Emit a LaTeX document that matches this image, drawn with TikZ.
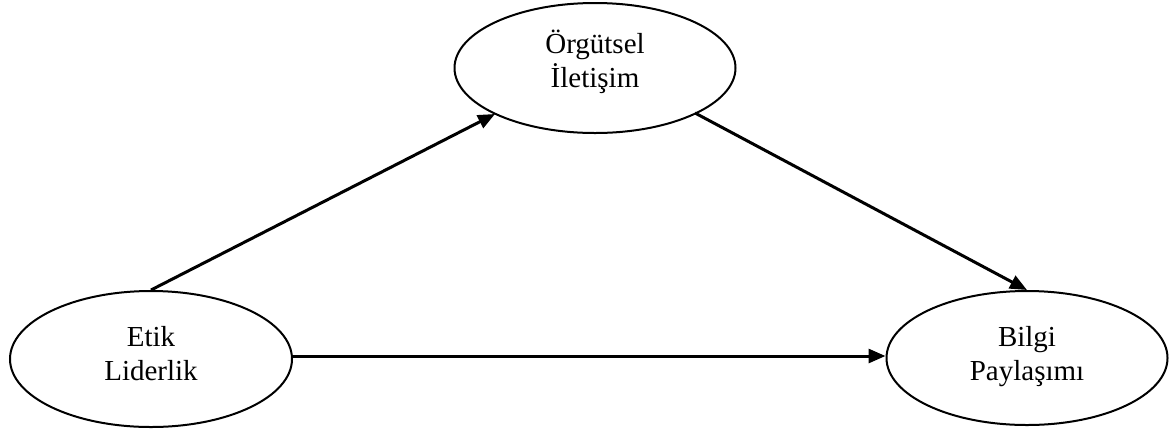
\documentclass[tikz,border=0pt]{standalone}
\usepackage{fontspec}
\setmainfont{Liberation Serif}
\usetikzlibrary{shapes.geometric,arrows.meta}
\begin{document}
\begin{tikzpicture}[x=1pt,y=-1pt,
  oval/.style={draw,line width=2pt,ellipse,inner sep=0pt},
  txt/.style={align=center,inner sep=0pt,font=\fontsize{29}{34}\selectfont},
  link/.style={line width=3pt,-{Triangle[length=17pt,width=14pt]}}]
\useasboundingbox (0,0) rectangle (1172,432);
\node[oval,minimum width=281pt,minimum height=130pt] (o) at (595,68) {};
\node[oval,minimum width=282pt,minimum height=136pt] (e) at (151,359) {};
\node[oval,minimum width=281pt,minimum height=134pt] (b) at (1027,358) {};
\node[txt,anchor=base] (ot) at (595,87) {Örgütsel\\İletişim};
\node[txt,anchor=base] (et) at (151,380) {Etik\\Liderlik};
\node[txt,anchor=base] (bt) at (1027,380) {Bilgi\\Paylaşımı};
\coordinate (o1) at (495,114);
\coordinate (o2) at (695,113);
\draw[link] (e.north) -- (o1);
\draw[link] (o2) -- (b.north);
\draw[link] (e.east |- 0,356) -- (b.west |- 0,356);
\end{tikzpicture}
\end{document}
